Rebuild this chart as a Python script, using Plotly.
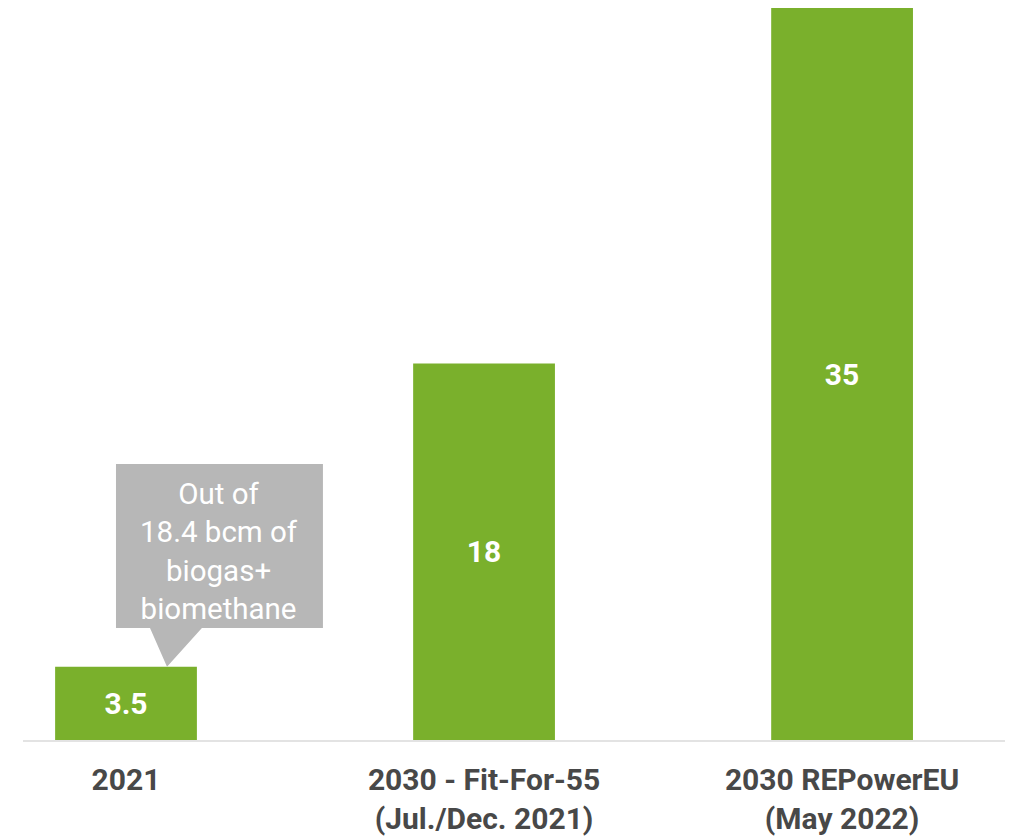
import plotly.graph_objects as go

categories = ["2021", "2030 - Fit-For-55<br>(Jul./Dec. 2021)", "2030 REPowerEU<br>(May 2022)"]
values = [3.5, 18, 35]
value_labels = ["3.5", "18", "35"]
callout_text = "Out of<br>18.4 bcm of<br>biogas+<br>biomethane"

GREEN = "#7AB02C"
GRAY_BOX = "#B7B7B7"
TEXT_DARK = "#484848"
FONT = "Roboto"

xpos = list(range(len(categories)))

fig = go.Figure()
fig.add_trace(go.Bar(
    x=xpos, y=values, width=0.396,
    marker=dict(color=GREEN, line=dict(width=0)),
    text=value_labels, textposition="inside", insidetextanchor="middle",
    textangle=0,
    textfont=dict(family=FONT, size=30, color="white", weight="bold"),
    hoverinfo="skip",
))

# callout box with pointer to the first bar
bx0, bx1 = -0.028, 0.550
by0, by1 = 5.355, 13.2
px0, px1, ptip = 0.067, 0.212, 0.1145
path = (f"M {bx0} {by0} L {bx0} {by1} L {bx1} {by1} L {bx1} {by0} "
        f"L {px1} {by0} L {ptip} {values[0]} L {px0} {by0} Z")
fig.add_shape(type="path", path=path, xref="x", yref="y",
              fillcolor=GRAY_BOX, line=dict(width=0), layer="above")
fig.add_annotation(x=(bx0 + bx1) / 2, y=(by0 + by1) / 2 - 0.25, xref="x", yref="y",
                   text=callout_text, showarrow=False,
                   font=dict(family=FONT, size=29.5, color="white"),
                   align="center")

fig.update_layout(
    width=1005, height=837,
    margin=dict(l=15, r=3, t=0, b=105),
    paper_bgcolor="white", plot_bgcolor="white",
    showlegend=False,
    xaxis=dict(
        range=[-0.2877, 2.469], automargin=False,
        tickmode="array", tickvals=xpos, ticktext=categories,
        tickfont=dict(family=FONT, size=30, color=TEXT_DARK, weight="bold"),
        showline=True, linecolor="#E3E3E3", linewidth=2,
        showgrid=False, zeroline=False,
        ticks="outside", ticklen=12, tickcolor="rgba(0,0,0,0)",
    ),
    yaxis=dict(range=[0, 35], visible=False, showgrid=False, zeroline=False,
               automargin=False),
)

fig.write_html("out.html")
